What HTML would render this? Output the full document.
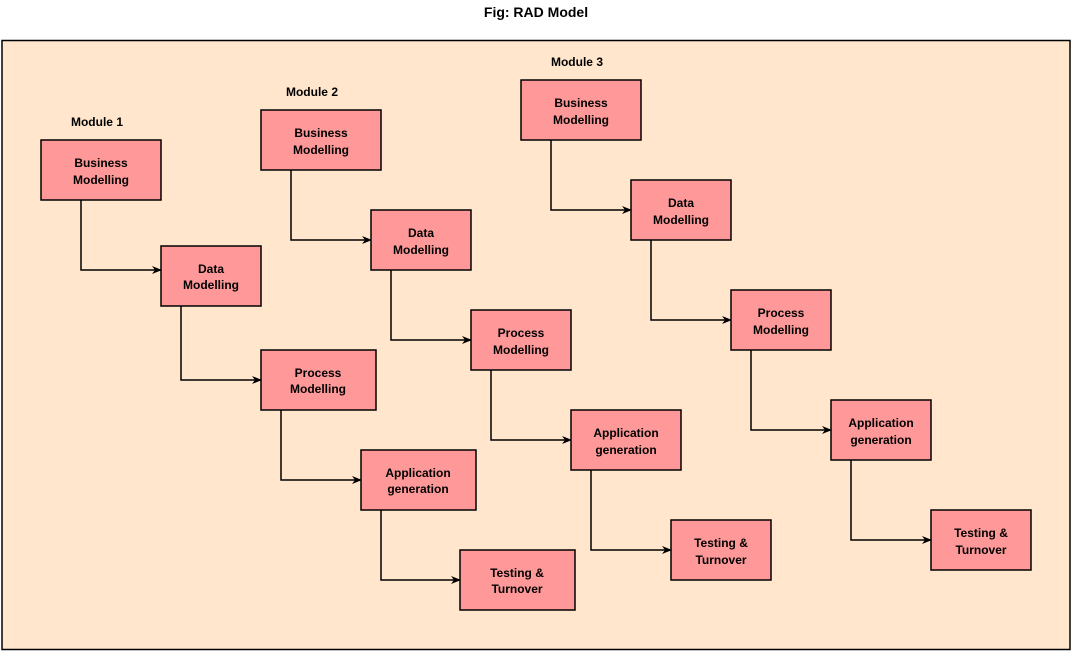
<!DOCTYPE html>
<html><head><meta charset="utf-8"><style>
html,body{margin:0;padding:0;background:#fff;}
svg{display:block;font-family:"Liberation Sans",Arial,sans-serif;}
</style></head><body>
<svg width="1072" height="652" viewBox="0 0 1072 652" xmlns="http://www.w3.org/2000/svg">
<defs><marker id="a" markerWidth="10" markerHeight="10" refX="9" refY="5" orient="auto" markerUnits="userSpaceOnUse"><path d="M0,1 L10,5 L0,9 L3,5 z" fill="#000"/></marker></defs>
<text x="536" y="17" text-anchor="middle" font-size="14" font-weight="bold">Fig: RAD Model</text>
<rect x="2" y="40.5" width="1068" height="609" fill="#FFE6CC" stroke="#000" stroke-width="1.5"/>
<g font-size="12" font-weight="bold" text-anchor="middle">
<text x="97" y="126">Module 1</text>
<text x="312" y="96">Module 2</text>
<text x="577" y="66">Module 3</text>
</g>
<g fill="none" stroke="#000" stroke-width="1.5" marker-end="url(#a)">
<path d="M81,200 V270 H161"/><path d="M181,306 V380 H261"/><path d="M281,410 V480 H361"/><path d="M381,510 V580 H460"/>
<path d="M291,170 V240 H371"/><path d="M391,270 V340 H471"/><path d="M491,370 V440 H571"/><path d="M591,470 V550 H671"/>
<path d="M551,140 V210 H631"/><path d="M651,240 V320 H731"/><path d="M751,350 V430 H831"/><path d="M851,460 V540 H931"/>
</g>
<g fill="#FF9999" stroke="#000" stroke-width="1.5">
<rect x="41" y="140" width="120" height="60"/><rect x="161" y="246" width="100" height="60"/><rect x="261" y="350" width="115" height="60"/><rect x="361" y="450" width="115" height="60"/><rect x="460" y="550" width="115" height="60"/>
<rect x="261" y="110" width="120" height="60"/><rect x="371" y="210" width="100" height="60"/><rect x="471" y="310" width="100" height="60"/><rect x="571" y="410" width="110" height="60"/><rect x="671" y="520" width="100" height="60"/>
<rect x="521" y="80" width="120" height="60"/><rect x="631" y="180" width="100" height="60"/><rect x="731" y="290" width="100" height="60"/><rect x="831" y="400" width="100" height="60"/><rect x="931" y="510" width="100" height="60"/>
</g>
<g font-size="12" font-weight="bold" text-anchor="middle" fill="#000">
<text x="101" y="167">Business</text><text x="101" y="184">Modelling</text>
<text x="211" y="273">Data</text><text x="211" y="289">Modelling</text>
<text x="318" y="377">Process</text><text x="318" y="393">Modelling</text>
<text x="418" y="477">Application</text><text x="418" y="493">generation</text>
<text x="517" y="577">Testing &amp;</text><text x="517" y="593">Turnover</text>
<text x="321" y="137">Business</text><text x="321" y="154">Modelling</text>
<text x="421" y="237">Data</text><text x="421" y="254">Modelling</text>
<text x="521" y="337">Process</text><text x="521" y="354">Modelling</text>
<text x="626" y="437">Application</text><text x="626" y="454">generation</text>
<text x="721" y="547">Testing &amp;</text><text x="721" y="564">Turnover</text>
<text x="581" y="107">Business</text><text x="581" y="124">Modelling</text>
<text x="681" y="207">Data</text><text x="681" y="224">Modelling</text>
<text x="781" y="317">Process</text><text x="781" y="334">Modelling</text>
<text x="881" y="427">Application</text><text x="881" y="444">generation</text>
<text x="981" y="537">Testing &amp;</text><text x="981" y="554">Turnover</text>
</g>
</svg>
</body></html>
